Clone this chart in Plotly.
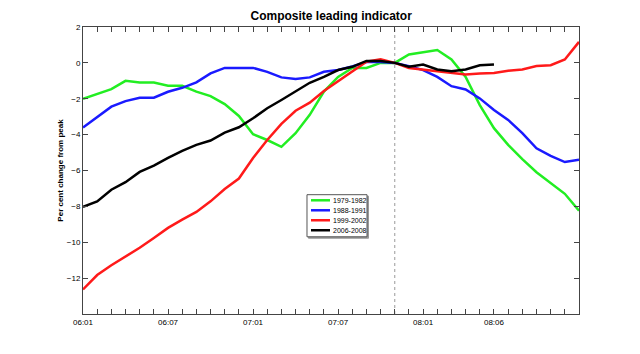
import plotly.graph_objects as go

months = list(range(36))
tick_vals = [0, 6, 12, 18, 24, 29]
tick_text = ["06:01", "06:07", "07:01", "07:07", "08:01", "08:06"]
peak_month = 22

s1979 = [-2.0, -1.74, -1.46, -1.0, -1.1, -1.1, -1.28, -1.28, -1.6, -1.85, -2.3, -2.96,
         -3.98, -4.3, -4.68, -3.92, -2.9, -1.6, -0.78, -0.28, -0.28, 0.0, 0.0, 0.47,
         0.58, 0.72, 0.19, -0.78, -2.35, -3.64, -4.57, -5.37, -6.1, -6.7, -7.3, -8.24]
s1988 = [-3.6, -3.0, -2.44, -2.13, -1.94, -1.94, -1.61, -1.39, -1.09, -0.59, -0.28, -0.28,
         -0.28, -0.5, -0.81, -0.9, -0.81, -0.5, -0.4, -0.2, 0.05, 0.05, 0.0, -0.18,
         -0.4, -0.78, -1.3, -1.48, -1.98, -2.63, -3.18, -3.92, -4.76, -5.18, -5.53, -5.4]
s1999 = [-12.63, -11.83, -11.28, -10.78, -10.31, -9.76, -9.2, -8.74, -8.31, -7.72, -7.03, -6.45,
         -5.3, -4.3, -3.4, -2.67, -2.22, -1.57, -1.02, -0.5, 0.06, 0.2, 0.0, -0.28,
         -0.37, -0.5, -0.56, -0.65, -0.59, -0.56, -0.44, -0.37, -0.18, -0.13, 0.19, 1.17]
s2006 = [-8.03, -7.72, -7.07, -6.65, -6.08, -5.73, -5.3, -4.9, -4.57, -4.33, -3.89, -3.59,
         -3.09, -2.53, -2.07, -1.61, -1.11, -0.78, -0.4, -0.22, 0.11, 0.11, 0.0, -0.22,
         -0.09, -0.37, -0.46, -0.37, -0.13, -0.09]

series = [
    ("1979-1982", s1979, "#22ee22"),
    ("1988-1991", s1988, "#1a1aff"),
    ("1999-2002", s1999, "#ff1a1a"),
    ("2006-2008", s2006, "#000000"),
]

font = "Liberation Sans, Arial, sans-serif"

fig = go.Figure()
for name, vals, col in series:
    fig.add_trace(go.Scatter(x=months[:len(vals)], y=vals, mode="lines", name=name,
                             showlegend=False, line=dict(color=col, width=2.5)))

fig.add_shape(type="line", x0=peak_month, x1=peak_month, y0=0, y1=1, yref="paper",
              line=dict(color="#999999", width=1, dash="dot"), layer="below")

# compact legend box (paper coordinates)
lg_x0, lg_x1, lg_y0, lg_y1 = 0.4516, 0.5726, 0.269, 0.4157
fig.add_shape(type="rect", xref="paper", yref="paper", x0=lg_x0 + 0.003, x1=lg_x1 + 0.003,
              y0=lg_y0 - 0.005, y1=lg_y1 - 0.005, line=dict(color="#999999", width=1),
              fillcolor="#999999")
fig.add_shape(type="rect", xref="paper", yref="paper", x0=lg_x0, x1=lg_x1,
              y0=lg_y0, y1=lg_y1, line=dict(color="#555555", width=1), fillcolor="white")
row_step = 0.0348
for i, (name, vals, col) in enumerate(series):
    yy = 0.3962 - i * row_step
    fig.add_shape(type="line", xref="paper", yref="paper", x0=0.4597, x1=0.4980,
                  y0=yy, y1=yy, line=dict(color=col, width=2.5))
    fig.add_annotation(xref="paper", yref="paper", x=0.4990, y=yy, text=name,
                       showarrow=False, xanchor="left", yanchor="middle",
                       font=dict(family=font, size=7, color="black"))

fig.update_layout(
    width=640, height=354,
    margin=dict(l=83, r=61, t=27, b=40),
    paper_bgcolor="white", plot_bgcolor="white",
    title=dict(text="<b>Composite leading indicator</b>", x=0.5175, xanchor="center",
               y=0.955, yanchor="middle", font=dict(family=font, size=12, color="black")),
    font=dict(family=font, size=8, color="black"),
    showlegend=False,
    xaxis=dict(range=[0, 35], tickvals=tick_vals, ticktext=tick_text,
               ticks="inside", ticklen=5, tickcolor="#444444", showgrid=False,
               zeroline=False, showline=True, linecolor="#444444", linewidth=1,
               mirror="ticks", tickfont=dict(family=font, size=8),
               minor=dict(dtick=1, tick0=0, ticks="inside", ticklen=5,
                          tickcolor="#444444", showgrid=False)),
    yaxis=dict(range=[-14, 2], tickvals=[-12, -10, -8, -6, -4, -2, 0, 2],
               ticks="inside", ticklen=5, tickcolor="#444444", showgrid=False,
               zeroline=False, showline=True, linecolor="#444444", linewidth=1,
               mirror="ticks", tickfont=dict(family=font, size=8),
               title=dict(text="<b>Per cent change from peak</b>", standoff=2,
                          font=dict(family=font, size=8))),
)

fig.write_html("out.html")
